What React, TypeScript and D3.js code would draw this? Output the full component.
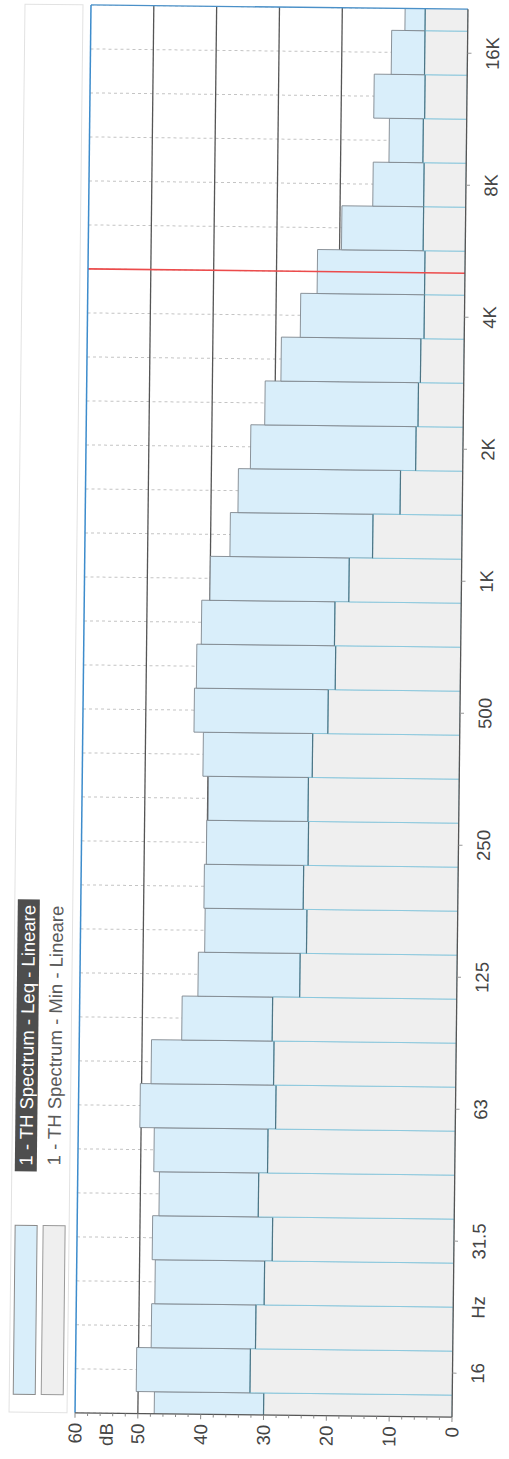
import React from 'react';
import * as d3 from 'd3';

// 1/3 octave band centres (Hz)
const freqs = [12.5, 16, 20, 25, 31.5, 40, 50, 63, 80, 100, 125, 160, 200, 250, 315, 400, 500, 630, 800, 1000, 1250, 1600, 2000, 2500, 3150, 4000, 5000, 6300, 8000, 10000, 12500, 16000, 20000];
// Leq per band (dB)
const leqValues = [47.4, 50.3, 48.0, 47.5, 48.0, 47.0, 47.9, 50.2, 48.5, 43.7, 41.2, 40.2, 40.4, 40.1, 39.9, 40.8, 42.3, 42.0, 41.3, 40.0, 36.9, 35.7, 33.8, 31.6, 29.1, 26.1, 23.5, 19.7, 14.8, 12.3, 14.8, 12.1, 10.0];
// Min per band (dB)
const minValues = [30.0, 32.2, 31.4, 30.1, 28.9, 31.2, 29.8, 28.6, 29.0, 29.3, 25.0, 24.0, 24.6, 23.9, 24.0, 23.4, 21.0, 19.9, 20.1, 17.9, 14.2, 9.9, 7.5, 7.2, 6.9, 6.4, 6.4, 6.7, 6.7, 6.9, 6.7, 6.8, 6.8];

const freqTicks = [16, 31.5, 63, 125, 250, 500, 1000, 2000, 4000, 8000, 16000];
const freqTickLabels = ['16', '31.5', '63', '125', '250', '500', '1K', '2K', '4K', '8K', '16K'];
const dbTicks = [60, 50, 40, 30, 20, 10, 0];
const dbGrid = [50, 40, 30, 20];
const cursorFreq = 5000;
const legendLabels = ['1 - TH Spectrum - Leq - Lineare', '1 - TH Spectrum - Min - Lineare'];

const FONT = '"Liberation Sans", Arial, sans-serif';

export default function App() {
  const top = 7;
  const bottom = 1415;
  const left = 83;   // 60 dB
  const right = 460; // 0 dB

  // dB runs horizontally (0 at right), frequency vertically (low at bottom)
  const x = d3.scaleLinear().domain([0, 60]).range([right, left]);
  const y = d3.scaleBand<number>().domain(freqs).range([bottom + 22, top - 22]).padding(0);
  const bw = y.bandwidth();
  const cy = (f: number) => (y(f) ?? 0) + bw / 2;

  const minorTicks = d3.range(0, 61, 2);

  return (
    <svg width={509} height={1459} style={{ position: 'absolute', left: 0, top: 0, background: '#fff' }} fontFamily={FONT}>
      <defs>
        <clipPath id="plot">
          <rect x={left} y={top} width={right - left} height={bottom - top} />
        </clipPath>
      </defs>
      <g transform="rotate(0.65, 270, 711)">
        {/* legend panel */}
        <rect x={17} y={top} width={58} height={bottom - top} fill="none" stroke="#e2e2e2" />
        <rect x={21} y={1228} width={22} height={169} fill="#d9eefa" stroke="#8a8a8a" />
        <rect x={49} y={1228} width={22} height={169} fill="#efefef" stroke="#9a9a9a" />
        <rect x={20} y={902} width={22} height={272} fill="#4e4e4e" />
        <text transform={`translate(31,1038) rotate(-90)`} textAnchor="middle" dominantBaseline="central" fontSize={18.5} fill="#fff">{legendLabels[0]}</text>
        <text transform={`translate(59,1038) rotate(-90)`} textAnchor="middle" dominantBaseline="central" fontSize={18.5} fill="#5a5a5a">{legendLabels[1]}</text>

        {/* band gridlines */}
        {freqs.map(f => (
          <line key={'g' + f} x1={left} x2={right} y1={cy(f)} y2={cy(f)} stroke="#c4c4c4" strokeDasharray="3,3" clipPath="url(#plot)" />
        ))}
        {dbGrid.map(d => (
          <line key={'v' + d} x1={x(d)} x2={x(d)} y1={top} y2={bottom} stroke="#555" strokeWidth={1.3} />
        ))}

        {/* bars */}
        <g clipPath="url(#plot)">
          {freqs.map((f, i) => (
            <rect key={'leq' + f} x={x(leqValues[i])} y={y(f)} width={x(0) - x(leqValues[i])} height={bw}
              fill="#d9eefa" stroke="#7f878e" strokeWidth={0.9} />
          ))}
          {freqs.map((f, i) => (
            <g key={'min' + f}>
              <rect x={x(minValues[i])} y={y(f)} width={x(0) - x(minValues[i])} height={bw}
                fill="#efefef" stroke="#86c6dd" strokeWidth={0.9} />
              <line x1={x(minValues[i])} x2={x(minValues[i])} y1={y(f)} y2={(y(f) ?? 0) + bw} stroke="#4d7585" strokeWidth={1.2} />
            </g>
          ))}
        </g>

        {/* cursor */}
        <line x1={left} x2={right} y1={cy(cursorFreq)} y2={cy(cursorFreq)} stroke="#ec4b4b" strokeWidth={1.6} />

        {/* frame */}
        <line x1={left} x2={right} y1={top} y2={top} stroke="#4a90c8" strokeWidth={1.3} />
        <line x1={left} x2={left} y1={top} y2={bottom} stroke="#3d8ccc" strokeWidth={1.5} />
        <line x1={right} x2={right} y1={top} y2={bottom} stroke="#555" strokeWidth={1.3} />
        <line x1={left} x2={right} y1={bottom} y2={bottom} stroke="#555" strokeWidth={1.3} />

        {/* dB axis */}
        {minorTicks.map(d => (
          <line key={'t' + d} x1={x(d)} x2={x(d)} y1={bottom} y2={bottom + (d % 10 === 0 ? 5 : 3)} stroke="#888" />
        ))}
        {dbTicks.map(d => (
          <text key={'l' + d} transform={`translate(${x(d)},1425) rotate(-90)`} textAnchor="end" dominantBaseline="central" fontSize={18.5} fill="#444">{d}</text>
        ))}
        <text transform={`translate(${x(55)},1425) rotate(-90)`} textAnchor="end" dominantBaseline="central" fontSize={18.5} fill="#444">dB</text>

        {/* frequency axis */}
        {freqTicks.map((f, i) => (
          <g key={'f' + f}>
            <line x1={right} x2={right + 4} y1={cy(f)} y2={cy(f)} stroke="#999" />
            <text transform={`translate(485,${cy(f)}) rotate(-90)`} textAnchor="middle" dominantBaseline="central" fontSize={18.5} fill="#444">{freqTickLabels[i]}</text>
          </g>
        ))}
        <text transform={`translate(485,${(cy(20) + cy(25)) / 2}) rotate(-90)`} textAnchor="middle" dominantBaseline="central" fontSize={18.5} fill="#444">Hz</text>
      </g>
    </svg>
  );
}
